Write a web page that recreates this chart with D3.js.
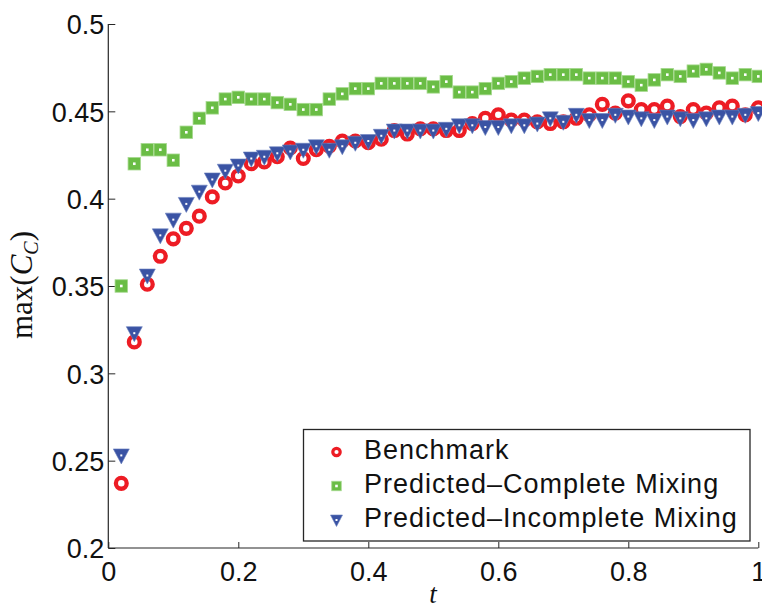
<!DOCTYPE html>
<html>
<head>
<meta charset="utf-8">
<script src="https://cdn.jsdelivr.net/npm/d3@7"></script>
<style>
  html, body { margin: 0; padding: 0; background: #fff; }
  svg { display: block; }
</style>
</head>
<body>
<svg id="chart" width="762" height="603"></svg>
<script>
// time samples
const tValues = [0.02, 0.04, 0.06, 0.08, 0.10, 0.12, 0.14, 0.16, 0.18, 0.20,
                 0.22, 0.24, 0.26, 0.28, 0.30, 0.32, 0.34, 0.36, 0.38, 0.40,
                 0.42, 0.44, 0.46, 0.48, 0.50, 0.52, 0.54, 0.56, 0.58, 0.60,
                 0.62, 0.64, 0.66, 0.68, 0.70, 0.72, 0.74, 0.76, 0.78, 0.80,
                 0.82, 0.84, 0.86, 0.88, 0.90, 0.92, 0.94, 0.96, 0.98, 1.00];

// Benchmark
const benchmark = [0.237, 0.318, 0.351, 0.367, 0.377, 0.383, 0.390, 0.401, 0.409, 0.413,
                   0.420, 0.421, 0.424, 0.429, 0.423, 0.428, 0.430, 0.433, 0.433, 0.432,
                   0.434, 0.439, 0.437, 0.440, 0.440, 0.439, 0.439, 0.443, 0.446, 0.448,
                   0.445, 0.445, 0.444, 0.443, 0.444, 0.446, 0.448, 0.454, 0.449, 0.456,
                   0.451, 0.451, 0.453, 0.447, 0.451, 0.449, 0.452, 0.453, 0.448, 0.452];

// Predicted - Complete Mixing
const completeMixing = [0.350, 0.420, 0.428, 0.428, 0.422, 0.438, 0.446, 0.452, 0.457, 0.458,
                        0.457, 0.457, 0.455, 0.454, 0.451, 0.451, 0.457, 0.460, 0.463, 0.463,
                        0.466, 0.466, 0.466, 0.466, 0.464, 0.467, 0.461, 0.461, 0.463, 0.466,
                        0.467, 0.469, 0.470, 0.471, 0.471, 0.471, 0.469, 0.469, 0.469, 0.467,
                        0.465, 0.468, 0.471, 0.470, 0.473, 0.474, 0.472, 0.469, 0.471, 0.470];

// Predicted - Incomplete Mixing
const incompleteMixing = [0.253, 0.323, 0.356, 0.379, 0.388, 0.397, 0.404, 0.411, 0.416, 0.419,
                          0.423, 0.424, 0.426, 0.427, 0.428, 0.430, 0.428, 0.430, 0.432, 0.433,
                          0.436, 0.439, 0.439, 0.439, 0.439, 0.440, 0.442, 0.442, 0.441, 0.441,
                          0.442, 0.442, 0.443, 0.446, 0.444, 0.448, 0.445, 0.445, 0.448, 0.447,
                          0.446, 0.445, 0.447, 0.446, 0.445, 0.446, 0.447, 0.447, 0.448, 0.449];

const xTicks = [0, 0.2, 0.4, 0.6, 0.8, 1];
const yTicks = [0.2, 0.25, 0.3, 0.35, 0.4, 0.45, 0.5];
const legendLabels = ["Benchmark", "Predicted\u2013Complete Mixing", "Predicted\u2013Incomplete Mixing"];

const RED = "#ed1c24", GREEN = "#6abd45", BLUE = "#3a53a4", AXIS = "#262626";

const svg = d3.select("#chart");
const plot = {left: 108.3, right: 758.3, top: 24, bottom: 548};

const x = d3.scaleLinear().domain([0, 1]).range([plot.left, plot.right]);
const y = d3.scaleLinear().domain([0.2, 0.5]).range([plot.bottom, plot.top]);

// axes (ticks point inward, MATLAB style)
const xAxis = svg.append("g")
    .attr("transform", `translate(0,${plot.bottom})`)
    .call(d3.axisBottom(x).tickValues(xTicks).tickSize(-6).tickPadding(10)
        .tickFormat(d => d3.format("")(d)));
const yAxis = svg.append("g")
    .attr("transform", `translate(${plot.left},0)`)
    .call(d3.axisLeft(y).tickValues(yTicks).tickSize(-7).tickPadding(4)
        .tickFormat(d => d3.format("")(+d.toFixed(2))));

[xAxis, yAxis].forEach(a => {
    a.select(".domain").attr("stroke", AXIS).attr("stroke-width", 1.2);
    a.selectAll(".tick line").attr("stroke", AXIS).attr("stroke-width", 1);
    a.selectAll(".tick text")
        .attr("fill", "#111")
        .style("font-family", "'Liberation Sans', Arial, sans-serif")
        .style("font-size", "27px");
});
xAxis.selectAll(".tick text").attr("dy", "0").attr("y", 33);
yAxis.selectAll(".tick text").attr("dy", "0.36em");
// keep the domain as a plain line, no outer ticks
xAxis.select(".domain").attr("d", `M${plot.left},0H${plot.right}`);
yAxis.select(".domain").attr("d", `M0,${plot.bottom}V${plot.top}`);

// marker drawers
function drawCircle(g, cx, cy, r, sw) {
    g.append("circle").attr("cx", cx).attr("cy", cy).attr("r", r)
        .attr("fill", "#fff").attr("stroke", RED).attr("stroke-width", sw);
}
function drawSquare(g, cx, cy, s) {
    g.append("rect").attr("x", cx - s / 2).attr("y", cy - s / 2)
        .attr("width", s).attr("height", s)
        .attr("fill", GREEN).attr("stroke", "#a6d98f").attr("stroke-width", 0.8);
    g.append("rect").attr("x", cx - 1.3).attr("y", cy - 1.3)
        .attr("width", 2.6).attr("height", 2.6).attr("fill", "#fff");
}
function drawTriangle(g, cx, cy, w, top, tip) {
    g.append("path")
        .attr("d", `M${cx - w / 2},${cy - top}L${cx + w / 2},${cy - top}L${cx},${cy + tip}Z`)
        .attr("fill", BLUE).attr("stroke", "#6a7fbd").attr("stroke-width", 0.6);
    g.append("rect").attr("x", cx - 1).attr("y", cy - 1)
        .attr("width", 2).attr("height", 2).attr("fill", "#fff");
}

const marks = svg.append("g");
const gRed = marks.append("g"), gGreen = marks.append("g"), gBlue = marks.append("g");
tValues.forEach((t, i) => drawCircle(gRed, x(t), y(benchmark[i]), 5.4, 4.3));
tValues.forEach((t, i) => drawSquare(gGreen, x(t), y(completeMixing[i]), 12.5));
tValues.forEach((t, i) => drawTriangle(gBlue, x(t), y(incompleteMixing[i]), 16, 6.5, 8.5));

// legend
const legend = svg.append("g");
legend.append("rect").attr("x", 303.5).attr("y", 429.5).attr("width", 446.5).attr("height", 111.5)
    .attr("fill", "#fff").attr("stroke", AXIS).attr("stroke-width", 1.3);
const rowY = [452, 486, 520];
drawCircle(legend, 336.5, rowY[0], 3.7, 3.2);
drawSquare(legend, 336.5, rowY[1], 9.5);
drawTriangle(legend, 336.5, rowY[2], 12, 5, 6.5);
legend.selectAll("text.lab").data(legendLabels).join("text")
    .attr("class", "lab")
    .attr("x", 364)
    .attr("y", (d, i) => rowY[i] + 6.5)
    .attr("fill", "#111")
    .style("font-family", "'Liberation Sans', Arial, sans-serif")
    .style("font-size", "27px")
    .style("letter-spacing", "1px")
    .text(d => d);

// axis labels
svg.append("text")
    .attr("transform", "translate(32,285) rotate(-90)")
    .attr("text-anchor", "middle")
    .attr("fill", "#111")
    .style("font-family", "'Liberation Serif', 'DejaVu Serif', serif")
    .style("font-size", "31px")
    .html('max(<tspan font-style="italic">C</tspan><tspan font-style="italic" font-size="20px" dy="6">C</tspan><tspan dy="-6">)</tspan>');

svg.append("text")
    .attr("x", 433).attr("y", 603)
    .attr("text-anchor", "middle")
    .attr("fill", "#111")
    .style("font-family", "'Liberation Serif', 'DejaVu Serif', serif")
    .style("font-style", "italic")
    .style("font-size", "27px")
    .text("t");
</script>
</body>
</html>
